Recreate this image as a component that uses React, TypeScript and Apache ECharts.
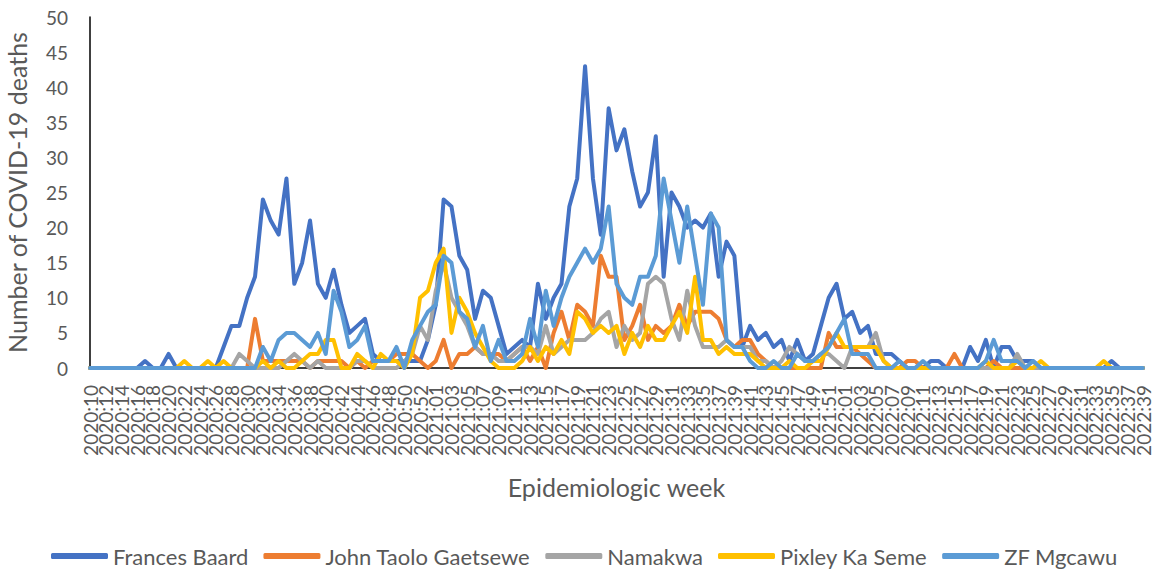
import React, { useEffect, useRef } from "react";
import * as echarts from "echarts";

// Epidemiologic week spans: [year, first week, last week]
const weekSpans: [number, number, number][] = [
  [2020, 10, 53],
  [2021, 1, 52],
  [2022, 1, 39],
];
const weeks: string[] = [];
for (const [y, a, b] of weekSpans) {
  for (let w = a; w <= b; w++) weeks.push(`${y}:${String(w).padStart(2, "0")}`);
}

const seriesNames = ["Frances Baard", "John Taolo Gaetsewe", "Namakwa", "Pixley Ka Seme", "ZF Mgcawu"];
const colors = ["#4472C4", "#ED7D31", "#A5A5A5", "#FFC000", "#5B9BD5"];

const francesBaard = [
  0, 0, 0, 0, 0, 0, 0, 1, 0, 0,
  2, 0, 0, 0, 0, 0, 0, 3, 6, 6,
  10, 13, 24, 21, 19, 27, 12, 15, 21, 12,
  10, 14, 9, 5, 6, 7, 2, 1, 1, 1,
  1, 1, 1, 4, 9, 24, 23, 16, 14, 7,
  11, 10, 6, 2, 3, 4, 3, 12, 7, 10,
  12, 23, 27, 43, 27, 19, 37, 31, 34, 28,
  23, 25, 33, 13, 25, 23, 20, 21, 20, 22,
  13, 18, 16, 3, 6, 4, 5, 3, 4, 1,
  4, 1, 2, 6, 10, 12, 7, 8, 5, 6,
  2, 2, 2, 1, 0, 0, 0, 1, 1, 0,
  0, 0, 3, 1, 4, 0, 3, 3, 1, 1,
  1, 0, 0, 0, 0, 0, 0, 0, 0, 0,
  1, 0, 0, 0, 0,
];

const johnTaoloGaetsewe = [
  0, 0, 0, 0, 0, 0, 0, 0, 0, 0,
  0, 0, 0, 0, 0, 0, 0, 0, 0, 0,
  0, 7, 1, 1, 1, 1, 1, 1, 0, 1,
  1, 1, 1, 0, 1, 0, 1, 1, 1, 2,
  2, 2, 1, 0, 1, 4, 0, 2, 2, 3,
  2, 2, 2, 1, 2, 3, 1, 3, 0, 5,
  8, 4, 9, 8, 6, 16, 13, 13, 4, 6,
  9, 4, 6, 5, 6, 9, 6, 8, 8, 8,
  7, 4, 3, 4, 4, 2, 1, 0, 0, 0,
  0, 0, 0, 0, 5, 3, 3, 3, 2, 1,
  0, 0, 0, 0, 1, 1, 0, 0, 0, 0,
  2, 0, 0, 0, 0, 1, 0, 0, 0, 0,
  0, 0, 0, 0, 0, 0, 0, 0, 0, 0,
  0, 0, 0, 0, 0,
];

const namakwa = [
  0, 0, 0, 0, 0, 0, 0, 0, 0, 0,
  0, 0, 0, 0, 0, 0, 0, 0, 0, 2,
  1, 0, 0, 0, 0, 1, 2, 1, 0, 1,
  0, 0, 0, 0, 1, 1, 0, 0, 0, 0,
  1, 2, 6, 4, 11, 15, 10, 8, 6, 3,
  2, 2, 1, 1, 2, 3, 3, 2, 6, 2,
  3, 4, 4, 4, 5, 7, 8, 3, 6, 4,
  5, 12, 13, 12, 7, 4, 11, 6, 3, 3,
  3, 4, 3, 3, 3, 1, 1, 0, 1, 3,
  2, 1, 1, 2, 2, 1, 0, 3, 3, 3,
  5, 1, 0, 0, 0, 0, 0, 0, 0, 0,
  0, 0, 0, 0, 0, 0, 0, 0, 2, 0,
  0, 0, 0, 0, 0, 0, 0, 0, 0, 0,
  0, 0, 0, 0, 0,
];

const pixleyKaSeme = [
  0, 0, 0, 0, 0, 0, 0, 0, 0, 0,
  0, 0, 1, 0, 0, 1, 0, 1, 0, 0,
  0, 0, 1, 0, 1, 0, 0, 1, 2, 2,
  4, 4, 0, 0, 2, 1, 0, 2, 1, 1,
  0, 2, 10, 11, 15, 17, 5, 10, 8, 5,
  3, 1, 0, 0, 0, 1, 3, 1, 3, 2,
  4, 2, 8, 7, 5, 6, 5, 6, 2, 5,
  3, 6, 4, 4, 6, 8, 5, 13, 4, 4,
  2, 3, 2, 2, 2, 1, 0, 0, 0, 1,
  0, 0, 1, 1, 3, 5, 3, 3, 3, 3,
  3, 1, 0, 0, 0, 0, 0, 0, 0, 0,
  0, 0, 0, 0, 1, 0, 0, 0, 1, 0,
  0, 1, 0, 0, 0, 0, 0, 0, 0, 1,
  0, 0, 0, 0, 0,
];

const zfMgcawu = [
  0, 0, 0, 0, 0, 0, 0, 0, 0, 0,
  0, 0, 0, 0, 0, 0, 0, 0, 0, 0,
  0, 0, 3, 1, 4, 5, 5, 4, 3, 5,
  2, 11, 8, 3, 4, 6, 1, 1, 1, 3,
  0, 4, 6, 8, 9, 16, 15, 8, 7, 3,
  6, 1, 4, 1, 1, 2, 7, 3, 11, 6,
  10, 13, 15, 17, 15, 17, 23, 12, 10, 9,
  13, 13, 16, 27, 21, 15, 23, 16, 9, 22,
  20, 4, 3, 3, 1, 0, 0, 1, 0, 0,
  2, 1, 1, 2, 3, 5, 7, 2, 2, 2,
  0, 0, 0, 1, 0, 0, 1, 0, 0, 0,
  0, 0, 0, 0, 1, 4, 1, 1, 1, 0,
  1, 0, 0, 0, 0, 0, 0, 0, 0, 0,
  0, 0, 0, 0, 0,
];

const seriesValues = [francesBaard, johnTaoloGaetsewe, namakwa, pixleyKaSeme, zfMgcawu];
const yTicks = { min: 0, max: 50, interval: 5 };

const FONT = "Lato, 'Liberation Sans', sans-serif";
const TEXT = "#595959";

export default function App() {
  const ref = useRef<HTMLDivElement>(null);
  useEffect(() => {
    document.body.style.margin = "0";
    if (!ref.current) return;
    const chart = echarts.init(ref.current, undefined, { renderer: "svg" });
    chart.setOption({
      animation: false,
      backgroundColor: "#ffffff",
      textStyle: { fontFamily: FONT },
      grid: { left: 90, right: 10, top: 17, bottom: 209, containLabel: false, outerBoundsMode: "none" },
      legend: {
        data: seriesNames,
        left: 46,
        top: 540,
        icon: "roundRect",
        itemWidth: 57,
        itemHeight: 6,
        itemGap: 15,
        textStyle: { fontFamily: FONT, fontSize: 22, color: TEXT },
      },
      xAxis: {
        type: "category",
        data: weeks,
        boundaryGap: false,
        name: "Epidemiologic week",
        nameLocation: "middle",
        nameGap: 106,
        nameTextStyle: { fontFamily: FONT, fontSize: 25, color: TEXT },
        axisLine: { show: true, lineStyle: { color: "#000000", width: 1.5 } },
        axisTick: { show: false },
        axisLabel: {
          interval: 0,
          formatter: (value: string, index: number) => (index % 2 === 0 ? value : ""),
          rotate: 90,
          margin: 17,
          hideOverlap: false,
          fontFamily: FONT,
          fontSize: 19,
          color: TEXT,
        },
        splitLine: { show: false },
      },
      yAxis: {
        type: "value",
        min: yTicks.min,
        max: yTicks.max,
        interval: yTicks.interval,
        name: "Number of COVID-19 deaths",
        nameLocation: "middle",
        nameGap: 61,
        nameTextStyle: { fontFamily: FONT, fontSize: 25, color: TEXT },
        axisLine: { show: true, lineStyle: { color: "#000000", width: 1.5 } },
        axisTick: { show: false },
        axisLabel: { margin: 22, fontFamily: FONT, fontSize: 19, color: TEXT },
        splitLine: { show: false },
      },
      series: seriesNames.map((name, k) => ({
        name,
        type: "line",
        data: seriesValues[k],
        symbol: "none",
        smooth: false,
        color: colors[k],
        lineStyle: { width: 4, color: colors[k], cap: "round", join: "round" },
        z: 2 + k,
      })),
    });
    return () => chart.dispose();
  }, []);
  return <div ref={ref} style={{ width: 1153, height: 577 }} />;
}
